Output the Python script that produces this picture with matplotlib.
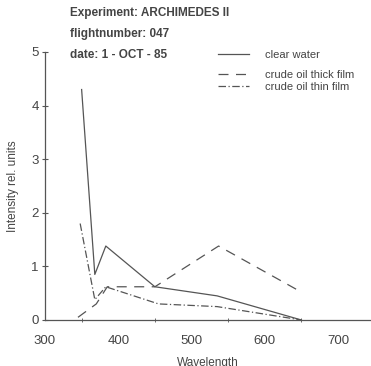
import matplotlib
matplotlib.use("Agg")
import matplotlib.pyplot as plt

plt.rcParams['font.family'] = ['Liberation Sans', 'DejaVu Sans']

# data
wl_clear = [350, 368, 383, 450, 535, 650]
clear_water = [4.3, 0.85, 1.38, 0.62, 0.45, 0.0]

wl_thick = [345, 370, 385, 450, 537, 650]
thick_film = [0.05, 0.3, 0.62, 0.62, 1.38, 0.52]

wl_thin = [348, 368, 383, 455, 535, 650]
thin_film = [1.8, 0.38, 0.62, 0.3, 0.25, 0.0]

x_ticks = [300, 400, 500, 600, 700]
y_ticks = [0, 1, 2, 3, 4, 5]

ink = '#555555'
txt = '#444444'

fig = plt.figure(figsize=(3.71, 3.66), dpi=100)
ax = fig.add_axes([45/371, 46/366, 326/371, 268/366])

l1, = ax.plot(wl_clear, clear_water, color=ink, lw=0.9, label='clear water')
l2, = ax.plot(wl_thick, thick_film, color=ink, lw=0.9, dashes=(8, 6),
              label='crude oil thick film')
l3, = ax.plot(wl_thin, thin_film, color=ink, lw=0.9, dashes=(6, 2, 1, 2),
              label='crude oil thin film')

ax.set_xlim(300, 745)
ax.set_ylim(0, 5)
ax.set_xticks(x_ticks)
ax.set_xticks(range(350, 750, 50), minor=True)
ax.set_yticks(y_ticks)
for s in ['top', 'right']:
    ax.spines[s].set_visible(False)
for s in ['left', 'bottom']:
    ax.spines[s].set_color(ink)
    ax.spines[s].set_linewidth(0.9)
ax.tick_params(colors=ink, labelcolor=txt, labelsize=9.5, direction='inout',
               length=5, width=0.8)
ax.tick_params(axis='x', which='major', length=0, pad=11)
ax.tick_params(axis='x', which='minor', direction='inout', length=3, colors=ink)
ax.tick_params(axis='y', pad=2)

ax.set_xlabel('Wavelength', color=txt, fontsize=8.5, labelpad=7)
ax.set_ylabel('Intensity rel. units', color=txt, fontsize=8.5, labelpad=9)

# header
fig.text(70/371, 1 - 13/366, 'Experiment: ARCHIMEDES II', fontsize=8.5,
         fontweight='bold', color=txt, va='center')
fig.text(70/371, 1 - 34/366, 'flightnumber: 047', fontsize=8.5,
         fontweight='bold', color=txt, va='center')
fig.text(70/371, 1 - 55/366, 'date: 1 - OCT - 85', fontsize=8.5,
         fontweight='bold', color=txt, va='center')

# hand-placed legend, in two blocks like the original
leg1 = ax.legend(handles=[l1], loc='upper left', bbox_to_anchor=(0.5, 1.045),
                 frameon=False, fontsize=8, handlelength=2.8,
                 handletextpad=1.4, labelcolor=txt)
ax.add_artist(leg1)
ax.legend(handles=[l2, l3], loc='upper left', bbox_to_anchor=(0.5, 0.97),
          frameon=False, fontsize=8, handlelength=2.8, handletextpad=1.4,
          labelspacing=0.15, labelcolor=txt)

fig.savefig('out.png', dpi=100)
